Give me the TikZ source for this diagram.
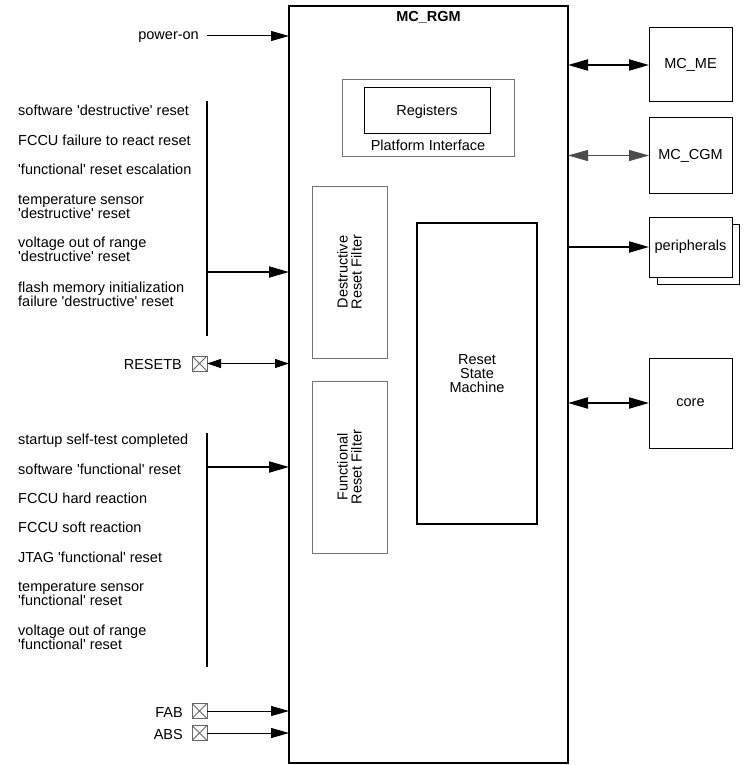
\documentclass[tikz,border=0pt]{standalone}
\usepackage{fontspec}
\setmainfont{Liberation Sans}
\usetikzlibrary{arrows.meta}
\newcommand{\sq}{\textquotesingle}
\begin{document}
\begin{tikzpicture}[x=1pt,y=-1pt,
  every node/.style={font=\fontsize{14.5}{14}\selectfont},
  box/.style={draw, line width=1pt, anchor=north west, inner sep=0pt, outer sep=0pt, fill=white},
  graybox/.style={box, draw=black!55},
  heavybox/.style={box, line width=2pt},
  txt/.style={anchor=base west, inner sep=0pt, align=left},
  rtxt/.style={anchor=base east, inner sep=0pt},
  pin/.style={draw=black!60, line width=0.8pt, minimum size=15pt, inner sep=0pt, outer sep=0pt,
    path picture={\draw[black!60, line width=0.8pt] (path picture bounding box.north west) -- (path picture bounding box.south east)
      (path picture bounding box.south west) -- (path picture bounding box.north east);}},
  bus/.style={line width=2pt},
  bigtip/.style={-{Triangle[length=20pt,width=11pt]}},
  bigboth/.style={{Triangle[length=20pt,width=11pt]}-{Triangle[length=20pt,width=11pt]}},
  midtip/.style={-{Triangle[length=18pt,width=10pt]}},
  smallboth/.style={{Triangle[length=14pt,width=9pt]}-{Triangle[length=14pt,width=9pt]}}
]
\useasboundingbox (0,0) rectangle (749,765);

% main block
\node[heavybox, minimum width=279pt, minimum height=757pt] (rgm) at (289,6) {};
\node[font=\fontsize{14.5}{14}\selectfont\bfseries] (title) at (428.5,17) {MC\_RGM};

% platform interface
\node[graybox, minimum width=172pt, minimum height=76pt] (pif) at (342,80) {};
\node[box, minimum width=126pt, minimum height=45pt] (reg) at (364,88) {};
\node (regt) at (427,112) {Registers};
\node (pift) at (428,145) {Platform Interface};

% filters
\node[graybox, minimum width=75pt, minimum height=172pt] (drf) at (312,186) {};
\node[rotate=90, align=center] (drft) at (drf.center) {Destructive\\Reset Filter};
\node[graybox, minimum width=75pt, minimum height=172pt] (frf) at (312,381) {};
\node[rotate=90, align=center] (frft) at (frf.center) {Functional\\Reset Filter};

% reset state machine
\node[heavybox, minimum width=120pt, minimum height=301pt] (rsm) at (417,223) {};
\node[align=center] (rsmt) at (rsm.center) {Reset\\State\\Machine};

% right side blocks
\node[box, minimum width=83pt, minimum height=74pt] (me) at (649,28) {};
\node (met) at (me.center) {MC\_ME};
\node[box, minimum width=83pt, minimum height=75pt] (cgm) at (649,118) {};
\node (cgmt) at (cgm.center) {MC\_CGM};
\node[box, minimum width=82pt, minimum height=60pt] (perb) at (657,224) {};
\node[box, minimum width=83pt, minimum height=60pt] (per) at (649,217) {};
\node (pert) at (per.center) {peripherals};
\node[box, minimum width=83pt, minimum height=90pt] (core) at (649,358) {};
\node (coret) at (core.center) {core};

\draw[bigboth, line width=2pt] (rgm.east |- me.west) -- (me.west);
\draw[bigboth, line width=1pt, black!70] (rgm.east |- cgm.west) -- (cgm.west);
\draw[bigtip, line width=2pt] (rgm.east |- per.west) -- (per.west);
\draw[bigboth, line width=2pt] (rgm.east |- core.west) -- (core.west);

% power-on
\node[rtxt] (pwr) at (199,40) {power-on};
\coordinate (pwrs) at (207,36);
\draw[midtip, line width=1pt] (pwrs) -- (pwrs -| rgm.west);

% destructive sources
\node[txt] (d1) at (18,116) {software \sq destructive\sq\ reset};
\node[txt] (d2) at (18,145) {FCCU failure to react reset};
\node[txt] (d3) at (18,174) {\sq functional\sq\ reset escalation};
\node[txt] (d4) at (18,218) {temperature sensor\\\sq destructive\sq\ reset};
\node[txt] (d5) at (18,261) {voltage out of range\\\sq destructive\sq\ reset};
\node[txt] (d6) at (18,306) {flash memory initialization\\failure \sq destructive\sq\ reset};
\coordinate (dtop) at (207,101);
\coordinate (dbot) at (207,336);
\draw[bus] (dtop) -- (dbot);
\coordinate (darr) at (207,272);
\draw[bigtip, line width=2pt] (darr) -- (darr -| rgm.west);

% RESETB
\node[pin] (rstpin) at (199.5,363.5) {};
\node[rtxt] (rstt) at (182,369) {RESETB};
\draw[smallboth, line width=1pt] (rstpin.east) -- (rstpin.east -| rgm.west);

% functional sources
\node[txt] (f1) at (18,444) {startup self-test completed};
\node[txt] (f2) at (18,474) {software \sq functional\sq\ reset};
\node[txt] (f3) at (18,503) {FCCU hard reaction};
\node[txt] (f4) at (18,532) {FCCU soft reaction};
\node[txt] (f5) at (18,562) {JTAG \sq functional\sq\ reset};
\node[txt] (f6) at (18,605) {temperature sensor\\\sq functional\sq\ reset};
\node[txt] (f7) at (18,649) {voltage out of range\\\sq functional\sq\ reset};
\coordinate (ftop) at (207,433);
\coordinate (fbot) at (207,667);
\draw[bus] (ftop) -- (fbot);
\coordinate (farr) at (207,467);
\draw[bigtip, line width=2pt] (farr) -- (farr -| rgm.west);

% FAB / ABS
\node[pin] (fabpin) at (199.5,711) {};
\node[rtxt] (fabt) at (183,717) {FAB};
\draw[midtip, line width=1pt] (fabpin.east) -- (fabpin.east -| rgm.west);
\node[pin] (abspin) at (199.5,733) {};
\node[rtxt] (abst) at (183,739) {ABS};
\draw[midtip, line width=1pt] (abspin.east) -- (abspin.east -| rgm.west);
\end{tikzpicture}
\end{document}
